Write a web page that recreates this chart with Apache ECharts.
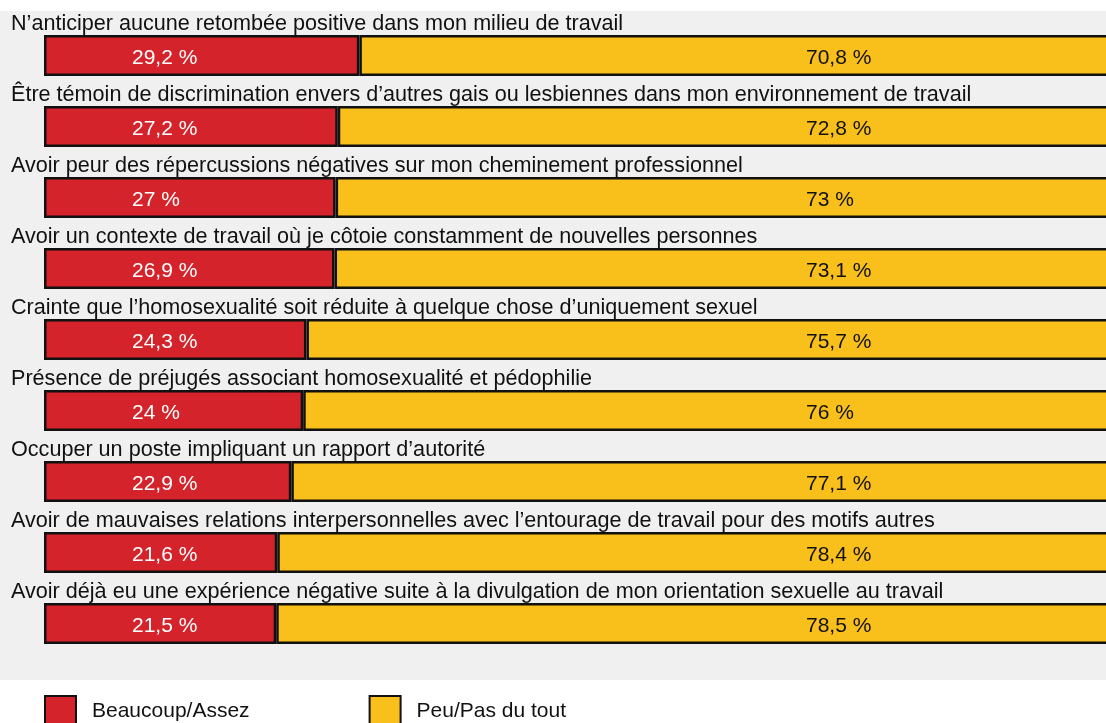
<!DOCTYPE html>
<html>
<head>
<meta charset="utf-8">
<script src="https://cdn.jsdelivr.net/npm/echarts@6/dist/echarts.min.js"></script>
<style>
html,body{margin:0;padding:0;background:#fff;overflow:hidden;}
#chart{width:1106px;height:723px;}
</style>
</head>
<body>
<div id="chart"></div>
<script>
const categories = [
  "N’anticiper aucune retombée positive dans mon milieu de travail",
  "Être témoin de discrimination envers d’autres gais ou lesbiennes dans mon environnement de travail",
  "Avoir peur des répercussions négatives sur mon cheminement professionnel",
  "Avoir un contexte de travail où je côtoie constamment de nouvelles personnes",
  "Crainte que l’homosexualité soit réduite à quelque chose d’uniquement sexuel",
  "Présence de préjugés associant homosexualité et pédophilie",
  "Occuper un poste impliquant un rapport d’autorité",
  "Avoir de mauvaises relations interpersonnelles avec l’entourage de travail pour des motifs autres",
  "Avoir déjà eu une expérience négative suite à la divulgation de mon orientation sexuelle au travail"
];
const seriesNames = ["Beaucoup/Assez", "Peu/Pas du tout"];
const beaucoup = [29.2, 27.2, 27, 26.9, 24.3, 24, 22.9, 21.6, 21.5];
const peu = [70.8, 72.8, 73, 73.1, 75.7, 76, 77.1, 78.4, 78.5];

const FONT = "'Liberation Sans', Arial, Helvetica, sans-serif";
const fmt = p => String(p.value).replace('.', ',') + ' %';

const chart = echarts.init(document.getElementById('chart'), null, {renderer: 'canvas'});
chart.setOption({
  animation: false,
  backgroundColor: '#ffffff',
  textStyle: {fontFamily: FONT},
  grid: [
    {left: 44, width: 1080, top: 20, height: 639, containLabel: false, outerBoundsMode: 'none'},
    {left: 0, right: 0, top: 11, height: 669, show: true, backgroundColor: '#f0f0f0', borderWidth: 0, outerBoundsMode: 'none'}
  ],
  legend: {
    left: 44, top: 695, padding: 0,
    itemWidth: 31, itemHeight: 31, itemGap: 119,
    icon: 'rect',
    textStyle: {fontSize: 21, color: '#111', fontFamily: FONT, padding: [0, 0, 0, 11]},
    data: seriesNames
  },
  xAxis: [
    {type: 'value', min: 0, max: 100, show: false, gridIndex: 0},
    {type: 'value', min: 0, max: 1, show: false, gridIndex: 1}
  ],
  yAxis: [
    {
      type: 'category', data: categories, inverse: true, gridIndex: 0,
      axisLine: {show: false}, axisTick: {show: false},
      axisLabel: {
        show: true, interval: 0, margin: 33, align: 'left', verticalAlign: 'middle',
        lineHeight: 63,
        formatter: v => v + '\n ',
        fontSize: 21.6, color: '#111', fontFamily: FONT
      }
    },
    {type: 'value', min: 0, max: 1, show: false, gridIndex: 1}
  ],
  series: [
    {
      name: seriesNames[0], type: 'bar', stack: 'total', data: beaucoup,
      xAxisIndex: 0, yAxisIndex: 0, barWidth: 41,
      itemStyle: {color: '#d4232b', borderColor: '#111', borderWidth: 2.5},
      label: {
        show: true, position: [88, '50%'], align: 'left', verticalAlign: 'middle', offset: [0, 3],
        color: '#ffffff', fontSize: 21, fontFamily: FONT, formatter: fmt
      }
    },
    {
      name: seriesNames[1], type: 'bar', stack: 'total', data: peu,
      xAxisIndex: 0, yAxisIndex: 0, barWidth: 41,
      itemStyle: {color: '#f9bf1b', borderColor: '#111', borderWidth: 2.5},
      label: {
        show: true, position: 'insideRight', distance: 318, align: 'left', verticalAlign: 'middle', offset: [0, 3],
        color: '#111', fontSize: 21, fontFamily: FONT, formatter: fmt
      }
    }
  ]
});
</script>
</body>
</html>
